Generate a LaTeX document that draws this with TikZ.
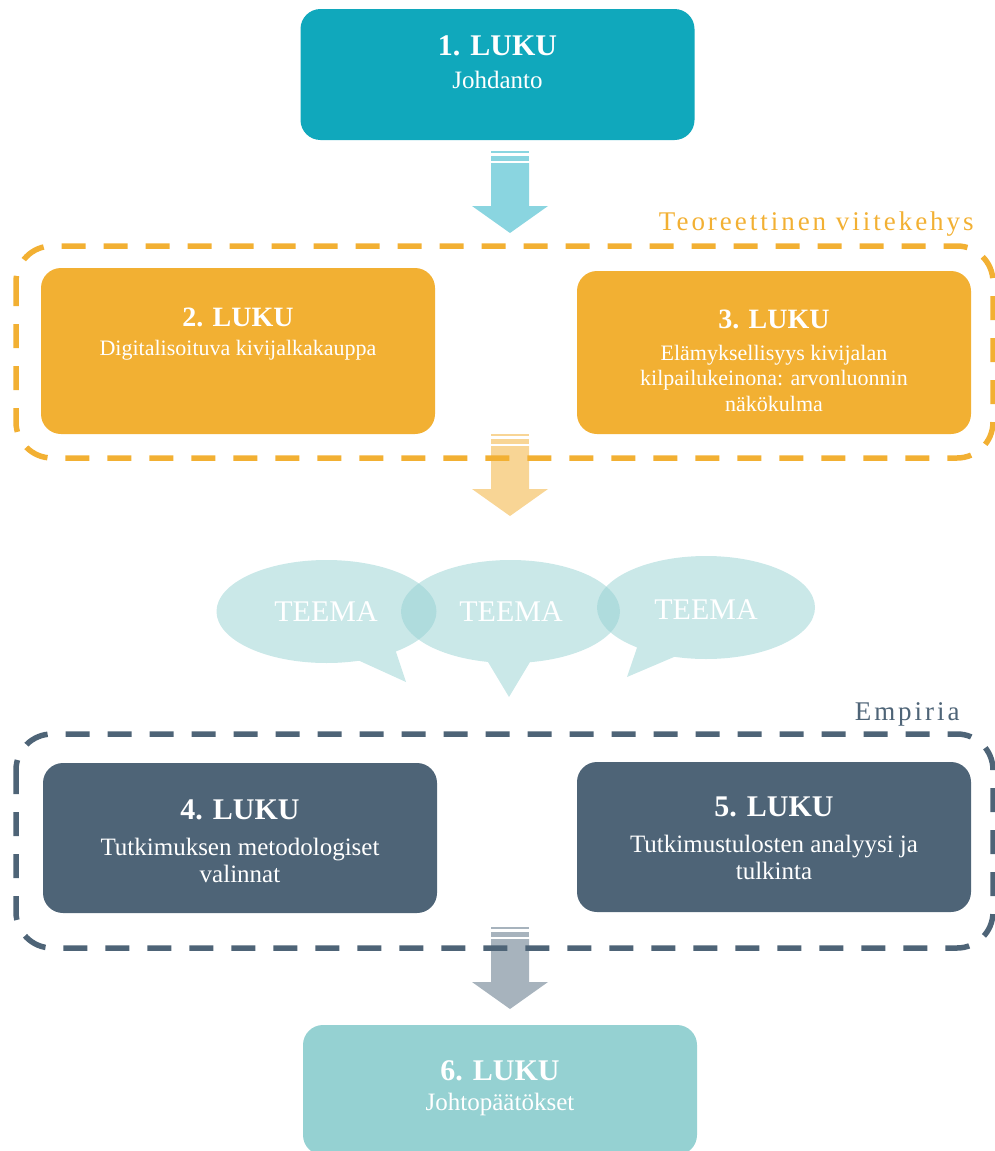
\documentclass[tikz,border=0pt]{standalone}
\usepackage{fontspec}
\setmainfont{Liberation Serif}
\newfontfamily\harvafont[LetterSpace=11]{Liberation Serif}
\usetikzlibrary{calc,positioning}

\definecolor{luku1}{HTML}{10A8BC}
\definecolor{nuoli1}{HTML}{8AD5E0}
\definecolor{teoria}{HTML}{F2B033}
\definecolor{nuoli2}{HTML}{F8D595}
\definecolor{empiria}{HTML}{4E6477}
\definecolor{nuoli3}{HTML}{A7B3BD}
\definecolor{luku6}{HTML}{95D1D2}

\tikzset{
	lukulaatikko/.style={rectangle,rounded corners=10pt,minimum width=197pt,inner sep=0pt},
	otsikko/.style={text=white,font=\fontsize{15}{18}\selectfont\bfseries,inner sep=0pt},
	alateksti/.style={text=white,font=\fontsize{12.5}{13.5}\selectfont,align=center,inner sep=0pt},
	pienteksti/.style={text=white,font=\fontsize{11}{12.75}\selectfont,align=center,inner sep=0pt},
	kehys/.style={line width=2.75pt,rounded corners=18pt,dash pattern=on 12pt off 9pt},
	kupla/.style={fill=luku6,fill opacity=0.5},
	teema/.style={text=white,font=\fontsize{15}{18}\selectfont,inner sep=0pt},
	ryhma/.style={font=\harvafont\fontsize{13.5}{16}\selectfont,inner sep=0pt,anchor=base east}
}

% x = keskikohta, y = ylin raita
\newcommand{\nuoli}[3]{%
	\fill[#3] (#1-19,#2) rectangle (#1+19,#2+2);
	\fill[#3] (#1-19,#2+5) rectangle (#1+19,#2+10);
	\fill[#3] (#1-19,#2+12) -- (#1+19,#2+12) -- (#1+19,#2+55) -- (#1+38,#2+55)
		-- (#1,#2+82) -- (#1-38,#2+55) -- (#1-19,#2+55) -- cycle;
}

\begin{document}
\begin{tikzpicture}[x=0.5pt,y=-0.5pt]
	\useasboundingbox (0,0) rectangle (995,1151);

	% 1. luku
	\node[lukulaatikko,fill=luku1,minimum height=65.5pt] (luku1) at (497.5,74.5) {};
	\node[otsikko] (o1) at (497.5,46) {1. LUKU};
	\node[alateksti] (a1) at (497.5,80) {Johdanto};
	\nuoli{510}{151}{nuoli1}

	% teoria
	\node[ryhma,text=teoria] (teoriateksti) at (974,230) {Teoreettinen viitekehys};
	\node[lukulaatikko,fill=teoria,minimum height=83pt] (luku2) at (238,351) {};
	\node[otsikko,font=\fontsize{14}{17}\selectfont\bfseries] (o2) at (238,317) {2. LUKU};
	\node[pienteksti] (a2) at (238,350) {Digitalisoituva kivijalkakauppa};
	\node[lukulaatikko,fill=teoria,minimum height=81.5pt] (luku3) at (774,352.5) {};
	\node[otsikko,font=\fontsize{14}{17}\selectfont\bfseries] (o3) at (774,319) {3. LUKU};
	\node[pienteksti] (a3) at (774,378) {Elämyksellisyys kivijalan\\kilpailukeinona: arvonluonnin\\näkökulma};
	\nuoli{510}{434}{nuoli2}
	\draw[kehys,teoria] (16,246) rectangle (993,458);

	% teemat
	\fill[kupla] (326.5,611.5) ellipse [x radius=110,y radius=51.5]
		(392,640) -- (406,682) -- (340,652) -- cycle;
	\fill[kupla] (510.5,611.5) ellipse [x radius=109.5,y radius=51.5]
		(536,652) -- (509,697) -- (482,652) -- cycle;
	\fill[kupla] (706,607.5) ellipse [x radius=109,y radius=51.5]
		(688,651) -- (627,677) -- (641,636) -- cycle;
	\node[teema] (teema1) at (326,612) {TEEMA};
	\node[teema] (teema2) at (511,612) {TEEMA};
	\node[teema] (teema3) at (706,609.5) {TEEMA};

	% empiria
	\node[ryhma,text=empiria] (empiriateksti) at (960,720) {Empiria};
	\node[lukulaatikko,fill=empiria,minimum height=75pt] (luku4) at (240,838) {};
	\node[otsikko] (o4) at (240,810) {4. LUKU};
	\node[alateksti] (a4) at (240,860) {Tutkimuksen metodologiset\\valinnat};
	\node[lukulaatikko,fill=empiria,minimum height=75pt] (luku5) at (774,837) {};
	\node[otsikko] (o5) at (774,807) {5. LUKU};
	\node[alateksti] (a5) at (774,857) {Tutkimustulosten analyysi ja\\tulkinta};
	\nuoli{510}{927}{nuoli3}
	\draw[kehys,empiria] (16,734) rectangle (993,948);

	% 6. luku
	\node[lukulaatikko,fill=luku6,minimum height=65pt] (luku6) at (500,1090) {};
	\node[otsikko] (o6) at (500,1071) {6. LUKU};
	\node[alateksti] (a6) at (500,1104) {Johtopäätökset};
\end{tikzpicture}
\end{document}
